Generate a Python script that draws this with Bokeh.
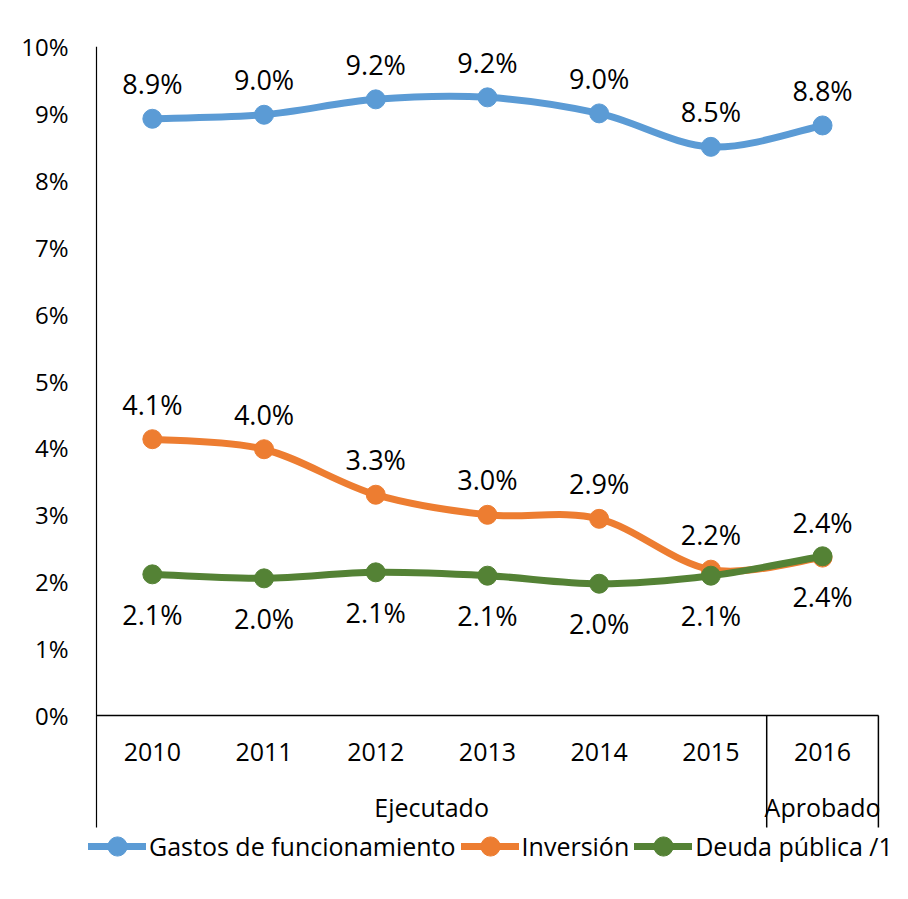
from bokeh.plotting import figure
from bokeh.models import (Range1d, ColumnDataSource, FixedTicker,
                          PrintfTickFormatter, LinearAxis, Legend, LegendItem)
from bokeh.core.properties import value
from bokeh.embed import file_html
from bokeh.resources import INLINE

# ---------------- data ----------------
years = ["2010", "2011", "2012", "2013", "2014", "2015", "2016"]
groups = ["Ejecutado", "Aprobado"]
group_sizes = [6, 1]
gastos = [8.92, 8.98, 9.21, 9.24, 9.00, 8.50, 8.82]
inversion = [4.13, 3.98, 3.30, 3.00, 2.94, 2.18, 2.36]
deuda = [2.11, 2.05, 2.14, 2.09, 1.97, 2.09, 2.38]
series_names = ["Gastos de funcionamiento", "Inversión", "Deuda pública /1"]
series_colors = ["#5B9BD5", "#ED7D31", "#548235"]
label_above = [True, True, False]
y_ticks = [0, 1, 2, 3, 4, 5, 6, 7, 8, 9, 10]

FONT = "Open Sans"
PX_PER_CAT = 111.7          # horizontal pixels per category slot
PX_PER_PCT = 66.9           # vertical pixels per 1 %
AXIS_DROP = 112             # how far the category area reaches below 0 %
LEGEND_DROP = 176           # frame bottom below 0 %
LEFT_PAD = 8                # frame starts this many px left of the value axis
FRAME_W = 812

n_cat = len(years)
xpos = [i + 0.5 for i in range(n_cat)]           # category centres
Y_AXIS_BOTTOM = -AXIS_DROP / PX_PER_PCT
Y_BOTTOM = -LEGEND_DROP / PX_PER_PCT
X_START = -LEFT_PAD / PX_PER_CAT

p = figure(width=900, height=891,
           x_range=Range1d(X_START, X_START + FRAME_W / PX_PER_CAT),
           y_range=Range1d(Y_BOTTOM, 10),
           output_backend="svg", toolbar_location=None,
           x_axis_location=None, y_axis_location=None,
           min_border_left=88, min_border_right=0, min_border_top=46, min_border_bottom=0)
p.outline_line_color = None
p.xgrid.visible = False
p.ygrid.visible = False
p.background_fill_color = "white"
p.border_fill_color = "white"

# y axis (labels only; the axis line is drawn at x = 0 below)
yaxis = LinearAxis(ticker=FixedTicker(ticks=y_ticks),
                   formatter=PrintfTickFormatter(format="%d%%"),
                   major_tick_line_color=None, minor_tick_line_color=None,
                   major_tick_out=0, major_tick_in=0, minor_tick_out=0, minor_tick_in=0,
                   major_label_standoff=20,
                   axis_line_color=None,
                   major_label_text_font=FONT, major_label_text_font_size="24px",
                   major_label_text_color="black")
p.add_layout(yaxis, "left")
p.segment(x0=[0], y0=[Y_AXIS_BOTTOM], x1=[0], y1=[10], line_color="black", line_width=1.2)

# category axis (years) at y = 0
xaxis = LinearAxis(fixed_location=0, bounds=(0, n_cat),
                   ticker=FixedTicker(ticks=xpos),
                   major_label_overrides={x: y for x, y in zip(xpos, years)},
                   major_tick_line_color=None, minor_tick_line_color=None,
                   major_tick_out=0, major_tick_in=0, minor_tick_out=0, minor_tick_in=0,
                   major_label_standoff=27,
                   axis_line_color="black", axis_line_width=1.5,
                   major_label_text_font=FONT, major_label_text_font_size="25px",
                   major_label_text_color="black")
p.add_layout(xaxis, "below")

# group level (Ejecutado / Aprobado)
bounds = [0]
for s in group_sizes:
    bounds.append(bounds[-1] + s)
gpos = [(bounds[i] + bounds[i + 1]) / 2 for i in range(len(groups))]
gaxis = LinearAxis(fixed_location=0, bounds=(0, n_cat),
                   ticker=FixedTicker(ticks=gpos),
                   major_label_overrides={x: g for x, g in zip(gpos, groups)},
                   major_tick_line_color=None, minor_tick_line_color=None,
                   major_tick_out=0, major_tick_in=0, minor_tick_out=0, minor_tick_in=0,
                   major_label_standoff=74, axis_line_color=None,
                   major_label_text_font=FONT, major_label_text_font_size="25px",
                   major_label_text_color="black")
p.add_layout(gaxis, "below")

# group separators (between groups and right end)
sep = ColumnDataSource(dict(x=bounds[1:], y0=[0] * len(groups),
                            y1=[Y_AXIS_BOTTOM] * len(groups)))
p.segment(x0="x", y0="y0", x1="x", y1="y1", source=sep, line_color="black", line_width=1.5)

legend_items = []
for vals, name, color, above in zip([gastos, inversion, deuda], series_names,
                                    series_colors, label_above):
    n = len(vals)
    cols = {k: [] for k in ["x0", "y0", "x1", "y1", "cx0", "cy0", "cx1", "cy1"]}
    for i in range(n - 1):
        prv = max(i - 1, 0)
        nxt = min(i + 2, n - 1)
        cols["x0"].append(xpos[i])
        cols["x1"].append(xpos[i + 1])
        cols["y0"].append(vals[i])
        cols["y1"].append(vals[i + 1])
        cols["cx0"].append(xpos[i] + (xpos[i + 1] - xpos[prv]) / 6.0)
        cols["cy0"].append(vals[i] + (vals[i + 1] - vals[prv]) / 6.0)
        cols["cx1"].append(xpos[i + 1] - (xpos[nxt] - xpos[i]) / 6.0)
        cols["cy1"].append(vals[i + 1] - (vals[nxt] - vals[i]) / 6.0)
    br = p.bezier(x0="x0", y0="y0", x1="x1", y1="y1", cx0="cx0", cy0="cy0",
                  cx1="cx1", cy1="cy1", source=ColumnDataSource(cols),
                  line_color=color, line_width=7, line_cap="round")
    src = ColumnDataSource(dict(x=xpos, y=vals, lab=[f"{v:.1f}%" for v in vals]))
    sr = p.scatter(x="x", y="y", source=src, size=19, marker="circle",
                   fill_color=color, line_color=color)
    p.text(x="x", y="y", text="lab", source=src, text_align="center",
           text_baseline="middle", y_offset=(-35 if above else 40),
           text_font=value(FONT), text_font_size="27px", text_color="black")
    legend_items.append(LegendItem(label=name, renderers=[br, sr]))

legend = Legend(items=legend_items, orientation="horizontal", location=(0, 21),
                glyph_width=58, glyph_height=48, label_standoff=3, spacing=5,
                padding=0, margin=0, border_line_color=None, background_fill_alpha=0,
                label_text_font=FONT, label_text_font_size="25px", label_text_color="black",
                label_height=48)
p.add_layout(legend, "center")

open("out.html", "w").write(file_html(p, INLINE))
